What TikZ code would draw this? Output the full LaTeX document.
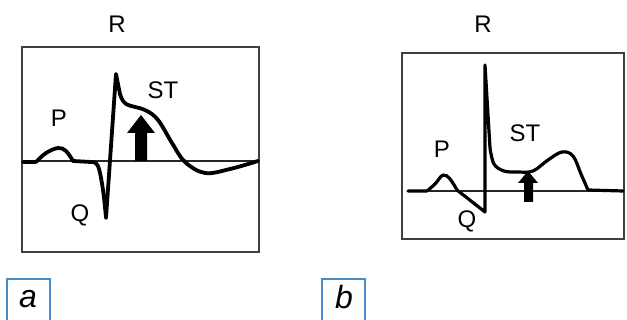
\documentclass[tikz,border=0pt]{standalone}
\usepackage{fontspec}
\setmainfont{Liberation Sans}
\usepackage{tikz}
\usetikzlibrary{positioning}
\definecolor{tagblue}{RGB}{70,140,200}

\begin{document}
\begin{tikzpicture}[x=1pt, y=-1pt,
  wave/.style={line width=3.8pt, line join=round, line cap=round},
  panel/.style={draw=black!75, line width=1.6pt},
  iso/.style={black!85, line width=1.8pt},
  lbl/.style={font=\fontsize{24}{26}\selectfont, anchor=base, inner sep=0pt},
  tag/.style={font=\fontsize{32}{34}\selectfont\itshape, anchor=base, inner sep=0pt}]

  \useasboundingbox (0,0) rectangle (627,320);

  % Panel a: ST elevation
  \draw[panel] (22,47) rectangle (259,252);
  \draw[iso] (22,161) -- (259,161);
  \draw[wave]
    (23,162) -- (36,162)
    plot[smooth, tension=0.6] coordinates {(36,162) (46,153) (58,148) (66,151) (73,161)}
    -- (91,162)
    plot[smooth, tension=0.6] coordinates {(91,162) (98,166) (103,190) (106,218)}
    -- (116,74) -- (120,94)
    plot[smooth, tension=0.6] coordinates {(120,94) (126,104) (145,110) (158,120)
      (172,143) (185,162) (205,173) (230,169) (258,161)};
  \fill (135,161) -- (135,133) -- (127,133) -- (141,115) -- (155,133)
    -- (147,133) -- (147,161) -- cycle;

  \node[lbl] (Ra)  at (117,33)  {R};
  \node[lbl] (Pa)  at (59,127)  {P};
  \node[lbl] (Qa)  at (80,222)  {Q};
  \node[lbl] (STa) at (163,99)  {ST};

  % Panel b
  \draw[panel] (402,53) rectangle (624,239);
  \draw[iso] (407,191) -- (624,191);
  \draw[wave, line width=3.2pt]
    (408,191) -- (427,191)
    plot[smooth, tension=0.6] coordinates {(427,191) (435,184) (443,175) (450,179) (457,190)}
    -- (485,212) -- (485,65) -- (490,148)
    plot[smooth, tension=0.6] coordinates {(490,148) (494,164) (504,171) (518,172)
      (533,171) (548,160) (562,152) (573,156) (581,174) (588,190)}
    -- (623,191);
  \fill (524,202) -- (524,183) -- (518,183) -- (528,171) -- (538,183)
    -- (533,183) -- (533,202) -- cycle;

  \node[lbl] (Rb)  at (483,33)  {R};
  \node[lbl] (Pb)  at (442,158) {P};
  \node[lbl] (Qb)  at (467,228) {Q};
  \node[lbl] (STb) at (525,142) {ST};

  % Panel tags
  \draw[tagblue, line width=1.2pt] (7,321) |- (50,279) -- (50,321);
  \node[tag] (taga) at (28,308) {a};
  \draw[tagblue, line width=1.2pt] (322,321) |- (365,279) -- (365,321);
  \node[tag] (tagb) at (344,309) {b};
\end{tikzpicture}
\end{document}
